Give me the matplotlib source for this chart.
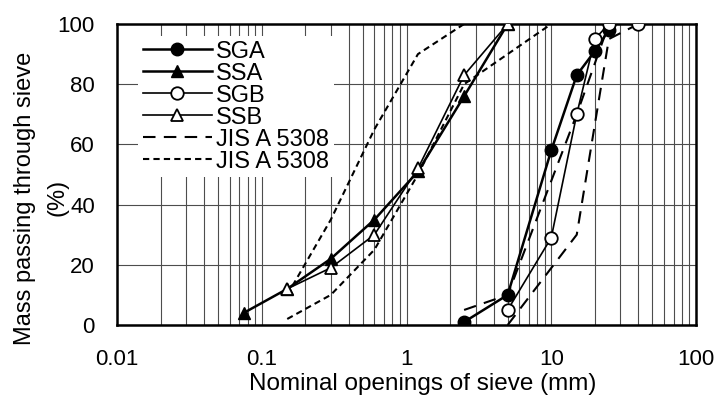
import matplotlib
matplotlib.use("Agg")
import matplotlib.pyplot as plt
from matplotlib.ticker import LogLocator, NullFormatter, FixedLocator

plt.rcParams['font.family'] = ['Liberation Sans', 'DejaVu Sans']

# Sieve openings (mm) and mass passing (%)
sga_x = [2.5, 5, 10, 15, 20, 25]
sga_y = [1, 10, 58, 83, 91, 98]

ssa_x = [0.075, 0.15, 0.3, 0.6, 1.2, 2.5, 5]
ssa_y = [4, 12, 22, 35, 51, 76, 100]

sgb_x = [5, 10, 15, 20, 25, 40]
sgb_y = [5, 29, 70, 95, 100, 100]

ssb_x = [0.15, 0.3, 0.6, 1.2, 2.5, 5]
ssb_y = [12, 19, 30, 52, 83, 100]

# JIS A 5308 limits, coarse aggregate
jis_c_up_x = [2.5, 5, 15, 25, 40]
jis_c_up_y = [5, 10, 70, 100, 100]
jis_c_lo_x = [5, 15, 25, 40]
jis_c_lo_y = [0, 30, 95, 100]

# JIS A 5308 limits, fine aggregate
jis_f_up_x = [0.15, 0.3, 0.6, 1.2, 2.5, 5]
jis_f_up_y = [10, 35, 65, 90, 100, 100]
jis_f_lo_x = [0.15, 0.3, 0.6, 1.2, 2.5, 5, 10]
jis_f_lo_y = [2, 10, 25, 50, 80, 90, 100]

x_ticks = [0.01, 0.1, 1, 10, 100]
x_ticklabels = ['0.01', '0.1', '1', '10', '100']
y_ticks = [0, 20, 40, 60, 80, 100]


def main():
    fig = plt.figure(figsize=(7.18, 3.96), dpi=100)
    ax = fig.add_axes([117 / 718, 1 - 325 / 396, 579 / 718, 301 / 396])

    long_dash = (0, (6, 4))
    short_dash = (0, (3, 2))

    ax.plot(sga_x, sga_y, '-', color='black', lw=1.8, marker='o', ms=9,
            mfc='black', mec='black', label='SGA', zorder=5)
    ax.plot(ssa_x, ssa_y, '-', color='black', lw=1.8, marker='^', ms=9,
            mfc='black', mec='black', label='SSA', zorder=5)
    ax.plot(sgb_x, sgb_y, '-', color='black', lw=1.2, marker='o', ms=9,
            mfc='white', mec='black', mew=1.3, label='SGB', zorder=6)
    ax.plot(ssb_x, ssb_y, '-', color='black', lw=1.2, marker='^', ms=9,
            mfc='white', mec='black', mew=1.3, label='SSB', zorder=6)

    ax.plot(jis_c_up_x, jis_c_up_y, color='black', lw=1.5, ls=long_dash,
            label='JIS A 5308', zorder=4)
    ax.plot(jis_c_lo_x, jis_c_lo_y, color='black', lw=1.5, ls=long_dash, zorder=4)
    ax.plot(jis_f_up_x, jis_f_up_y, color='black', lw=1.5, ls=short_dash,
            label='JIS A 5308', zorder=4)
    ax.plot(jis_f_lo_x, jis_f_lo_y, color='black', lw=1.5, ls=short_dash, zorder=4)

    ax.set_xscale('log')
    ax.set_xlim(0.01, 100)
    ax.set_ylim(0, 100)

    # Grid: every major/minor decade line, horizontal every 20%
    ax.xaxis.set_major_locator(FixedLocator(x_ticks))
    ax.xaxis.set_minor_locator(LogLocator(base=10, subs=range(2, 10)))
    ax.xaxis.set_minor_formatter(NullFormatter())
    ax.set_xticklabels(x_ticklabels)
    ax.set_yticks(y_ticks)
    ax.grid(True, which='both', axis='x', color='0.3', lw=0.8)
    ax.grid(True, which='major', axis='y', color='0.3', lw=0.8)
    ax.set_axisbelow(True)

    ax.tick_params(which='both', length=0)
    ax.tick_params(axis='x', labelsize=16, pad=17)
    ax.tick_params(axis='y', labelsize=16, pad=16)

    for s in ax.spines.values():
        s.set_linewidth(1.8)

    # Axis titles placed as in the original layout
    fig.text(423 / 718, 1 - 390 / 396, 'Nominal openings of sieve (mm)',
             ha='center', va='baseline', fontsize=17.5)
    fig.text(25 / 718, 1 - 198 / 396, 'Mass passing through sieve',
             rotation=90, ha='center', va='center', fontsize=17)
    fig.text(58 / 718, 1 - 197 / 396, '(%)',
             rotation=90, ha='center', va='center', fontsize=17)

    leg = ax.legend(loc='upper left', bbox_to_anchor=(0.036, 0.96), fontsize=17,
                    frameon=True, fancybox=False, edgecolor='none', framealpha=1,
                    handlelength=2.92, handletextpad=0.2, labelspacing=0.0,
                    borderpad=0.2, borderaxespad=0)
    leg.set_zorder(10)

    fig.savefig('out.png', dpi=100)


if __name__ == "__main__": main()
